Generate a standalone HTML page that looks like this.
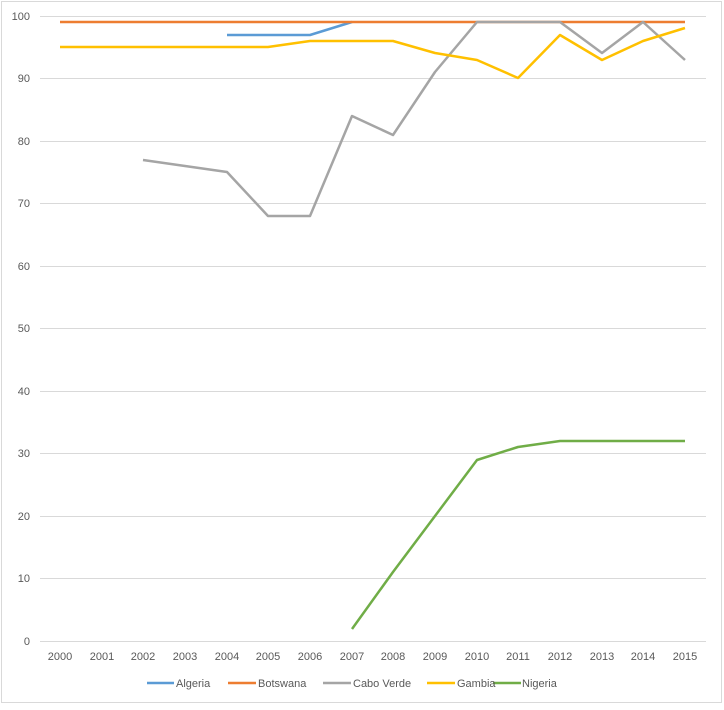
<!DOCTYPE html>
<html><head><style>
body{margin:0;background:#fff;}
svg text{font-family:"Liberation Sans",sans-serif;font-size:11px;fill:#595959;}
</style></head><body>
<svg width="724" height="705" xmlns="http://www.w3.org/2000/svg">
<rect x="1.5" y="1.5" width="720" height="701" fill="#fff" stroke="#d9d9d9"/>
<g stroke="#d9d9d9" stroke-width="1">
<line x1="40" x2="706" y1="16.5" y2="16.5"/><line x1="40" x2="706" y1="78.5" y2="78.5"/>
<line x1="40" x2="706" y1="141.5" y2="141.5"/><line x1="40" x2="706" y1="203.5" y2="203.5"/>
<line x1="40" x2="706" y1="266.5" y2="266.5"/><line x1="40" x2="706" y1="328.5" y2="328.5"/>
<line x1="40" x2="706" y1="391.5" y2="391.5"/><line x1="40" x2="706" y1="453.5" y2="453.5"/>
<line x1="40" x2="706" y1="516.5" y2="516.5"/><line x1="40" x2="706" y1="578.5" y2="578.5"/>
<line x1="40" x2="706" y1="641.5" y2="641.5"/>
</g>
<g text-anchor="end">
<text x="30" y="20">100</text><text x="30" y="82">90</text><text x="30" y="145">80</text>
<text x="30" y="207">70</text><text x="30" y="270">60</text><text x="30" y="332">50</text>
<text x="30" y="395">40</text><text x="30" y="457">30</text><text x="30" y="520">20</text>
<text x="30" y="582">10</text><text x="30" y="645">0</text>
</g>
<g text-anchor="middle">
<text x="60" y="660">2000</text><text x="102" y="660">2001</text><text x="143" y="660">2002</text>
<text x="185" y="660">2003</text><text x="227" y="660">2004</text><text x="268" y="660">2005</text>
<text x="310" y="660">2006</text><text x="352" y="660">2007</text><text x="393" y="660">2008</text>
<text x="435" y="660">2009</text><text x="477" y="660">2010</text><text x="518" y="660">2011</text>
<text x="560" y="660">2012</text><text x="602" y="660">2013</text><text x="643" y="660">2014</text>
<text x="685" y="660">2015</text>
</g>
<g fill="none" stroke-width="2.5" stroke-linejoin="round">
<polyline stroke="#5B9BD5" points="227,35 268,35 310,35 352,22"/>
<polyline stroke="#ED7D31" points="60,22 685,22"/>
<polyline stroke="#A5A5A5" points="143,160 185,166 227,172 268,216 310,216 352,116 393,135 435,72 477,22 518,22 560,22 602,53 643,22 685,60"/>
<polyline stroke="#FFC000" points="60,47 268,47 310,41 393,41 435,53 477,60 518,78 560,35 602,60 643,41 685,28"/>
<polyline stroke="#70AD47" points="352,629 393,572 435,516 477,460 518,447 560,441 685,441"/>
</g>
<g stroke-width="2.5">
<line x1="147" x2="174" y1="683" y2="683" stroke="#5B9BD5"/>
<line x1="228" x2="256" y1="683" y2="683" stroke="#ED7D31"/>
<line x1="323" x2="351" y1="683" y2="683" stroke="#A5A5A5"/>
<line x1="427" x2="455" y1="683" y2="683" stroke="#FFC000"/>
<line x1="493" x2="521" y1="683" y2="683" stroke="#70AD47"/>
</g>
<g style="font-size:10.5px">
<text x="176" y="687">Algeria</text><text x="258" y="687">Botswana</text>
<text x="353" y="687">Cabo Verde</text><text x="457" y="687">Gambia</text><text x="522" y="687">Nigeria</text>
</g>
</svg>
</body></html>
